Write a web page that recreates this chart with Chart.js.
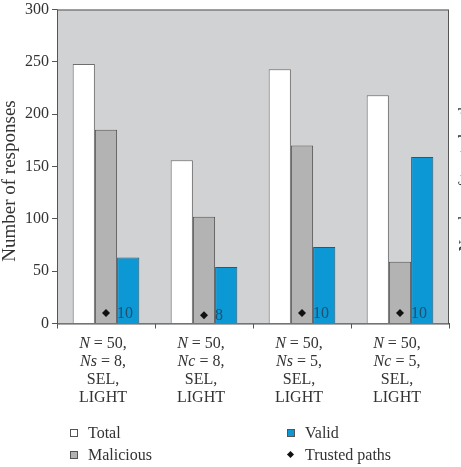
<!DOCTYPE html>
<html>
<head>
<meta charset="utf-8">
<script src="https://cdn.jsdelivr.net/npm/chart.js@4/dist/chart.umd.min.js"></script>
<style>
  html, body { margin: 0; padding: 0; background: #fff; overflow: hidden; }
  #wrap { position: relative; width: 461px; height: 467px; }
  #legend { position: absolute; left: 0; top: 422px; width: 461px; font-family: "Liberation Serif", serif; font-size: 16px; color: #333; }
  .item { position: absolute; height: 22px; line-height: 22px; white-space: nowrap; }
  .mark { position: absolute; top: 7px; width: 6px; height: 6px; border: 1px solid #555; }
</style>
</head>
<body>
<div id="wrap">
  <canvas id="chart" width="461" height="467"></canvas>
  <div id="legend"></div>
</div>
<script>
const categories = [
  ['N = 50,', 'Ns = 8,', 'SEL,', 'LIGHT'],
  ['N = 50,', 'Nc = 8,', 'SEL,', 'LIGHT'],
  ['N = 50,', 'Ns = 5,', 'SEL,', 'LIGHT'],
  ['N = 50,', 'Nc = 5,', 'SEL,', 'LIGHT']
]
const totalValues = [248, 156, 243, 218]
const maliciousValues = [185, 102, 170, 59]
const validValues = [63, 54, 73, 159]
const trustedPaths = [10, 8, 10, 10]
const yMax = 300
const yStep = 50

const serif = '"Liberation Serif", "Times New Roman", serif'
const textColor = '#333'

function rotatedText(ctx, text, x, y, size) {
  ctx.save()
  ctx.translate(x, y)
  ctx.rotate(-Math.PI / 2)
  ctx.font = size + 'px ' + serif
  ctx.fillStyle = textColor
  ctx.textAlign = 'center'
  ctx.fillText(text, 0, 0)
  ctx.restore()
}

// plot background, box round it, axis titles
const plotBox = {
  id: 'plotBox',
  beforeDatasetsDraw(chart) {
    const {ctx, chartArea: a} = chart
    ctx.save()
    ctx.fillStyle = '#d1d2d4'
    ctx.fillRect(a.left, a.top, a.width, a.height)
    ctx.restore()
  },
  afterDraw(chart) {
    const {ctx, chartArea: a} = chart
    ctx.save()
    ctx.strokeStyle = '#555'
    ctx.lineWidth = 1
    ctx.strokeRect(a.left + 0.5, a.top + 0.5, a.width - 1, a.height)
    ctx.restore()
    rotatedText(ctx, 'Number of responses', 15, 181, 19)
    // right title, mostly cut off by the edge
    rotatedText(ctx, 'Number of trusted paths', 470, 174, 16)
  }
}

// category labels with italic variable names
const xLabels = {
  id: 'xLabels',
  afterDraw(chart) {
    const {ctx} = chart
    const x = chart.scales.x
    const base = chart.chartArea.bottom
    ctx.save()
    ctx.fillStyle = textColor
    ctx.textBaseline = 'alphabetic'
    ctx.textAlign = 'left'
    categories.forEach((lines, i) => {
      const cx = x.getPixelForTick(i) - 3
      lines.forEach((line, j) => {
        const y = base + 24 + j * 18.3
        const k = line.indexOf(' =')
        const it = k > 0 ? line.slice(0, k) : ''
        const rest = k > 0 ? line.slice(k) : line
        ctx.font = 'italic 16px ' + serif
        const w1 = ctx.measureText(it).width
        ctx.font = '16px ' + serif
        const w2 = ctx.measureText(rest).width
        const sx = cx - (w1 + w2) / 2
        ctx.font = 'italic 16px ' + serif
        ctx.fillText(it, sx, y)
        ctx.font = '16px ' + serif
        ctx.fillText(rest, sx + w1, y)
      })
    })
    ctx.restore()
  }
}

// value next to each trusted-path diamond
const pathLabels = {
  id: 'pathLabels',
  afterDatasetsDraw(chart) {
    const {ctx} = chart
    const meta = chart.getDatasetMeta(0)
    ctx.save()
    ctx.font = '16px ' + serif
    ctx.fillStyle = '#22506c'
    ctx.textAlign = 'left'
    ctx.textBaseline = 'middle'
    meta.data.forEach((pt, i) => {
      ctx.fillText(String(trustedPaths[i]), pt.x + 11, pt.y + 1)
    })
    ctx.restore()
  }
}

const ctx = document.getElementById('chart').getContext('2d')
const chart = new Chart(ctx, {
  type: 'bar',
  data: {
    labels: categories.map(c => c.join(' ')),
    datasets: [
      {
        type: 'line', label: 'Trusted paths', data: trustedPaths, order: 0,
        showLine: false, pointStyle: 'rectRot', pointRadius: 4,
        backgroundColor: '#111', borderColor: '#111', borderWidth: 0
      },
      { label: 'Total', data: totalValues, order: 1, backgroundColor: '#ffffff', borderColor: '#6e6e6e', borderWidth: 1 },
      { label: 'Malicious', data: maliciousValues, order: 1, backgroundColor: '#b3b3b3', borderColor: '#555', borderWidth: 1 },
      { label: 'Valid', data: validValues, order: 1, backgroundColor: '#0c98d5', borderColor: '#2d5870', borderWidth: 1 }
    ]
  },
  options: {
    responsive: false,
    animation: false,
    layout: { padding: { top: 9.5, right: 12, left: 0, bottom: 0 } },
    datasets: { bar: { categoryPercentage: 0.68, barPercentage: 1.0 } },
    plugins: { legend: { display: false }, tooltip: { enabled: false } },
    scales: {
      x: {
        ticks: { display: false },
        grid: { drawOnChartArea: false, tickLength: 5, color: '#555', offset: true },
        border: { color: '#555' },
        afterFit(scale) { scale.height = 143.5 }
      },
      y: {
        min: 0, max: yMax,
        ticks: { stepSize: yStep, color: textColor, padding: 3, font: { family: serif, size: 16, lineHeight: 0.8 } },
        grid: { drawOnChartArea: false, tickLength: 5, color: '#555' },
        border: { color: '#555' },
        afterFit(scale) { scale.width = 57 }
      }
    }
  },
  plugins: [plotBox, xLabels, pathLabels]
})

// two-column legend under the chart
const legendPos = { 'Total': [70, 0], 'Valid': [287, 0], 'Malicious': [70, 22], 'Trusted paths': [287, 22] }
const legend = document.getElementById('legend')
chart.data.datasets.forEach(ds => {
  const [lx, ly] = legendPos[ds.label]
  const item = document.createElement('div')
  item.className = 'item'
  item.style.left = lx + 'px'
  item.style.top = ly + 'px'
  const mark = document.createElement('span')
  mark.className = 'mark'
  if (ds.type === 'line') {
    mark.style.border = 'none'
    mark.style.background = '#111'
    mark.style.width = '5px'
    mark.style.height = '5px'
    mark.style.left = '1px'
    mark.style.top = '8px'
    mark.style.transform = 'rotate(45deg)'
  } else {
    mark.style.background = ds.backgroundColor
    mark.style.left = '0px'
  }
  item.appendChild(mark)
  const txt = document.createElement('span')
  txt.style.marginLeft = '18px'
  txt.textContent = ds.label
  item.appendChild(txt)
  legend.appendChild(item)
})
</script>
</body>
</html>
